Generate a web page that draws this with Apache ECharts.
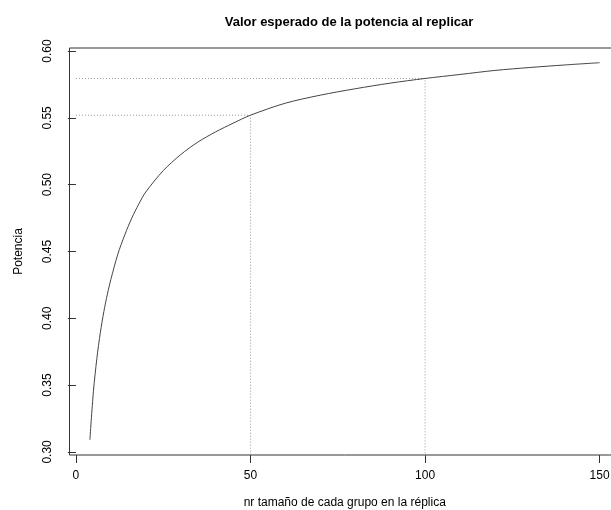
<!DOCTYPE html>
<html>
<head>
<meta charset="utf-8">
<script src="https://cdn.jsdelivr.net/npm/echarts@6/dist/echarts.min.js"></script>
<style>
html,body{margin:0;padding:0;background:#fff;overflow:hidden;}
#chart{width:620px;height:510px;}
</style>
</head>
<body>
<div id="chart"></div>
<script>
// n per group in replication
var nValues = [4, 5, 6, 7, 8, 9, 10, 12, 14, 16, 18, 20, 25, 30, 35, 40, 45, 50, 60, 70, 80, 90, 100, 110, 120, 130, 140, 150];
// expected power
var powerValues = [0.309, 0.345, 0.370, 0.3895, 0.405, 0.418, 0.429, 0.448, 0.4625, 0.475, 0.4855, 0.4945, 0.5105, 0.5225, 0.532, 0.5395, 0.546, 0.552, 0.561, 0.567, 0.5718, 0.576, 0.5795, 0.5825, 0.5855, 0.5877, 0.5896, 0.5913];
var xTicks = [0, 50, 100, 150];
var yTicks = [0.30, 0.35, 0.40, 0.45, 0.50, 0.55, 0.60];
var refN = [50, 100];

var curve = nValues.map(function (n, i) { return [n, powerValues[i]]; });

function refSeries(n) {
  var p = powerValues[nValues.indexOf(n)];
  return {
    type: 'line',
    data: [[0, p], [n, p], [n, 0]],
    symbol: 'none',
    silent: true,
    lineStyle: { color: '#9a9a9a', width: 1, type: [1, 2] },
    z: 1
  };
}

var chart = echarts.init(document.getElementById('chart'), null, { renderer: 'canvas' });
var series = refN.map(refSeries);
series.push({
  type: 'line',
  data: curve,
  symbol: 'none',
  smooth: 0.3,
  lineStyle: { color: '#444', width: 1 },
  z: 3
});

chart.setOption({
  animation: false,
  backgroundColor: '#fff',
  title: {
    text: 'Valor esperado de la potencia al replicar',
    left: 344,
    textAlign: 'center',
    top: 11,
    textStyle: { fontFamily: 'Liberation Sans', fontWeight: 'bold', fontSize: 13, color: '#000' }
  },
  grid: {
    left: 69.5, top: 48, bottom: 55, right: 0,
    containLabel: false,
    outerBoundsMode: 'none',
    show: true, borderColor: '#333', borderWidth: 1, backgroundColor: 'transparent'
  },
  xAxis: {
    type: 'value',
    min: -1.84, max: 155.84,
    name: 'nr tamaño de cada grupo en la réplica',
    nameLocation: 'middle',
    nameGap: 42,
    nameTextStyle: { fontFamily: 'Liberation Sans', fontSize: 12, color: '#000' },
    axisLine: { show: false },
    splitLine: { show: false },
    axisTick: { show: true, length: 8, lineStyle: { color: '#333' }, customValues: xTicks },
    axisLabel: {
      customValues: xTicks, margin: 15,
      fontFamily: 'Liberation Sans', fontSize: 12, color: '#000',
      formatter: function (v) { return String(v); }
    }
  },
  yAxis: {
    type: 'value',
    min: 0.2977, max: 0.6023,
    name: 'Potencia',
    nameLocation: 'middle',
    nameGap: 45,
    nameRotate: 90,
    nameTextStyle: { fontFamily: 'Liberation Sans', fontSize: 12, color: '#000' },
    axisLine: { show: false },
    splitLine: { show: false },
    axisTick: { show: true, length: 8, lineStyle: { color: '#333' }, customValues: yTicks },
    axisLabel: {
      customValues: yTicks, rotate: 90, margin: 16,
      fontFamily: 'Liberation Sans', fontSize: 12, color: '#000',
      formatter: function (v) { return v.toFixed(2); }
    }
  },
  series: series
});
</script>
</body>
</html>
